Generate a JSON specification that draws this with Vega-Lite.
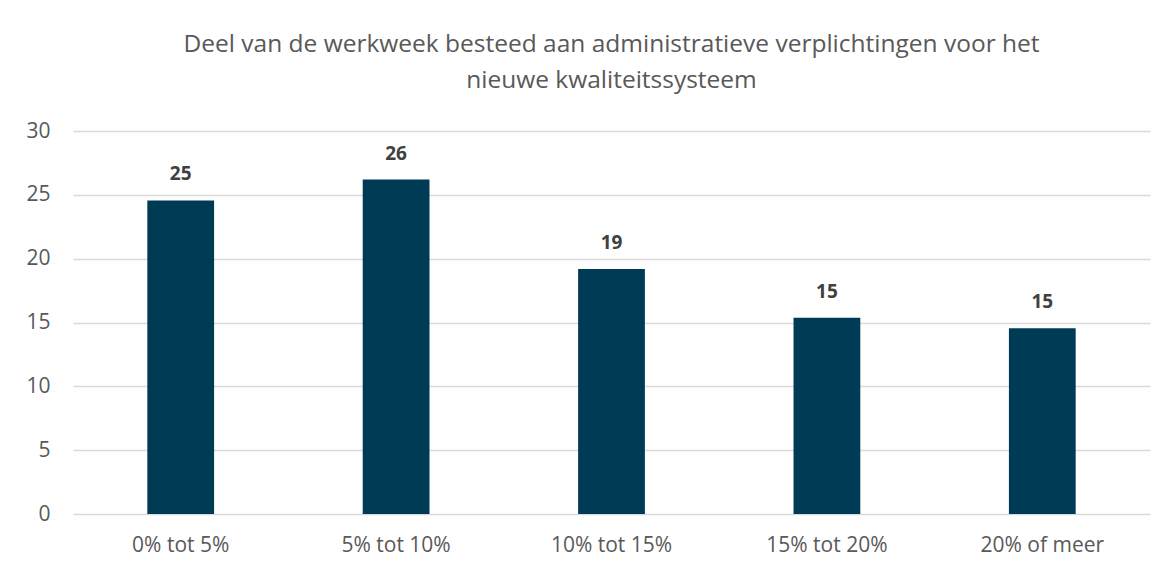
{
  "$schema": "https://vega.github.io/schema/vega-lite/v6.json",
  "width": 1077,
  "height": 383,
  "autosize": {"type": "none"},
  "padding": {"left": 73, "top": 131, "right": 18, "bottom": 55},
  "background": "white",
  "title": {
    "text": ["Deel van de werkweek besteed aan administratieve verplichtingen voor het", "nieuwe kwaliteitssysteem"],
    "font": "Open Sans",
    "fontSize": 24.5,
    "fontWeight": "normal",
    "color": "#595959",
    "anchor": "middle",
    "lineHeight": 36,
    "offset": 27
  },
  "data": {
    "values": [
      {"cat": "0% tot 5%", "value": 24.56, "label": "25"},
      {"cat": "5% tot 10%", "value": 26.2, "label": "26"},
      {"cat": "10% tot 15%", "value": 19.2, "label": "19"},
      {"cat": "15% tot 20%", "value": 15.38, "label": "15"},
      {"cat": "20% of meer", "value": 14.54, "label": "15"}
    ]
  },
  "config": {
    "view": {"stroke": null},
    "axis": {"labelFont": "Open Sans", "labelFontSize": 21, "labelColor": "#595959", "domain": false, "ticks": false, "title": null}
  },
  "encoding": {
    "x": {"field": "cat", "type": "nominal", "sort": null,
      "scale": {"paddingInner": 0.69, "paddingOuter": 0.345},
      "axis": {"labelAngle": 0, "labelPadding": 20, "grid": false}},
    "y": {"field": "value", "type": "quantitative",
      "scale": {"domain": [0, 30]},
      "axis": {"values": [0, 5, 10, 15, 20, 25, 30], "grid": true, "gridColor": "#D9D9D9", "gridWidth": 1.3, "labelPadding": 23}}
  },
  "layer": [
    {"mark": {"type": "bar", "color": "#003B56"}},
    {"mark": {"type": "text", "font": "Open Sans", "fontSize": 19, "fontWeight": "bold", "color": "#404040", "dy": -26},
      "encoding": {"text": {"field": "label"}}}
  ]
}
